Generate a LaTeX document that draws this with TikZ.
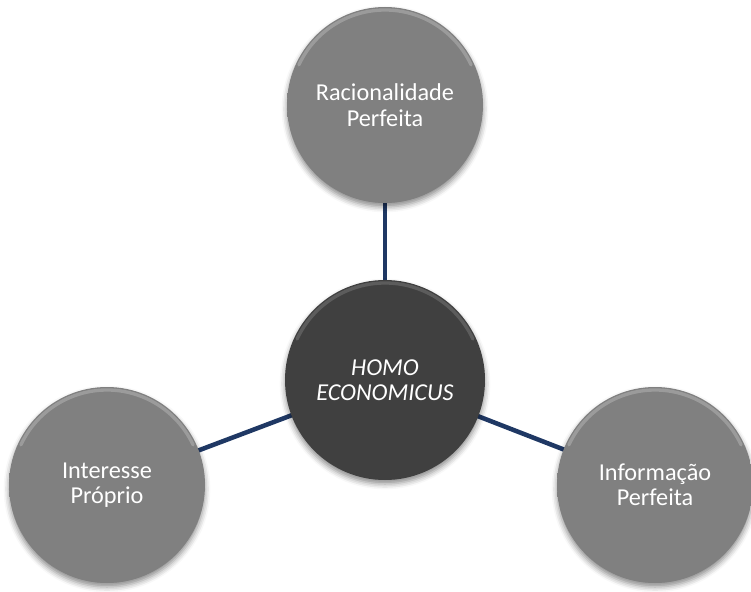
\documentclass[tikz,border=0pt]{standalone}
\usepackage{fontspec}
\setmainfont{Carlito}
\usetikzlibrary{shadows.blur,backgrounds}

\definecolor{linkblue}{RGB}{31,56,100}
\definecolor{discgray}{RGB}{128,128,128}
\definecolor{hubgray}{RGB}{64,64,64}

% bevelled discs: flat face, darker rim
\pgfdeclareradialshading{discshade}{\pgfpoint{0bp}{0bp}}{%
  color(0bp)=(discgray); color(42bp)=(discgray);
  color(47bp)=(discgray!85!black); color(50bp)=(discgray!60!black);
  color(60bp)=(discgray!60!black)}
\pgfdeclareradialshading{hubshade}{\pgfpoint{0bp}{0bp}}{%
  color(0bp)=(hubgray); color(42bp)=(hubgray);
  color(47bp)=(hubgray!85!black); color(50bp)=(hubgray!60!black);
  color(60bp)=(hubgray!60!black)}

\begin{document}
\begin{tikzpicture}[x=0.75pt, y=-0.75pt, >=latex,
    disc/.style={circle, minimum size=147pt, inner sep=0pt, shading=discshade,
      text=white, align=center, font=\fontsize{18.2}{19}\selectfont,
      blur shadow={shadow xshift=0pt, shadow yshift=-3pt,
        shadow blur radius=4pt, shadow opacity=45}},
    hub/.style={disc, minimum size=150pt, shading=hubshade,
      font=\fontsize{18.2}{19}\selectfont\itshape},
    link/.style={linkblue, line width=3.4pt},
    shine/.style={white, opacity=.22, line width=2.5pt, line cap=round}]
    \useasboundingbox (0,0) rectangle (751,592);

    % ==== DISCS ====
    \node[hub]  (homo) at (385,380) {HOMO\\ECONOMICUS};
    \node[disc] (rac)  at (385,105) {Racionalidade\\Perfeita};
    \node[disc] (inte) at (107,485) {Interesse\\Próprio};
    \node[disc] (info) at (655,485) {Informação\\Perfeita};

    % ==== LINKS ====
    \begin{scope}[on background layer]
        \foreach \n in {rac,inte,info}{
            \draw[link] (homo.center) -- (\n.center);
        }
    \end{scope}

    % === TOP SHINE ===
    \foreach \n in {rac,inte,info}{
        \draw[shine] ([shift={(205:95)}]\n.center) arc[start angle=205, end angle=335, radius=95];
    }
    \draw[shine, opacity=.15] ([shift={(205:97)}]homo.center) arc[start angle=205, end angle=335, radius=97];
\end{tikzpicture}
\end{document}
